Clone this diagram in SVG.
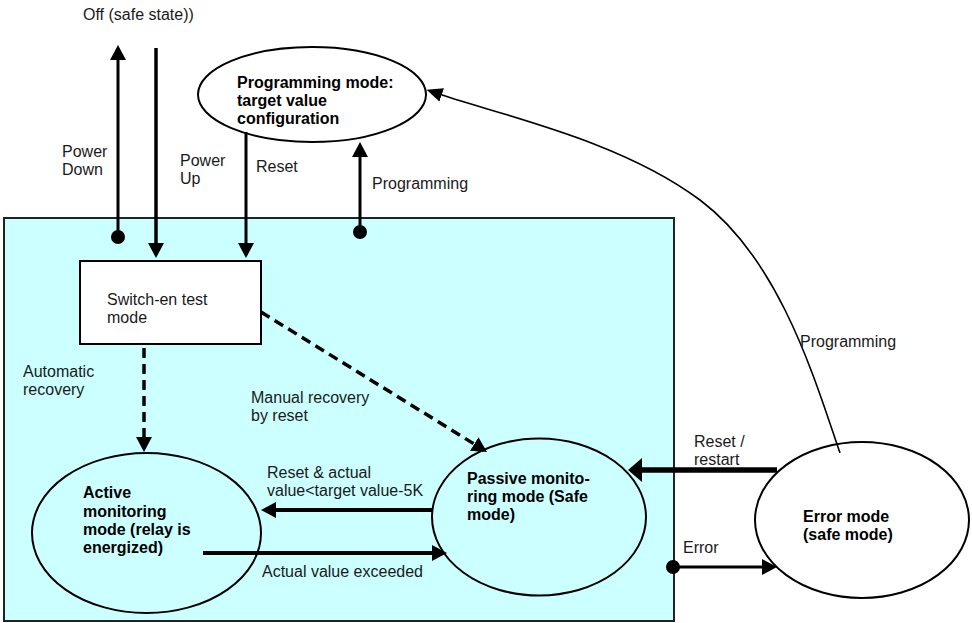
<svg xmlns="http://www.w3.org/2000/svg" width="972" height="623" viewBox="0 0 972 623">
<style>
text{font-family:"Liberation Sans",Arial,sans-serif;font-size:16px;fill:#1a1a1a}
.b{font-weight:bold;fill:#000}
.node{fill:#fff;stroke:#000;stroke-width:2}
.blue{fill:#ccffff}
.ln{fill:none;stroke:#000}
.dash{stroke-dasharray:10,6}
</style>
<defs>
<marker id="ah" markerUnits="userSpaceOnUse" markerWidth="16" markerHeight="16" refX="5" refY="8" orient="auto"><path d="M0,0 L15,8 L0,16 z" fill="#000"/></marker>
<marker id="ahb" markerUnits="userSpaceOnUse" markerWidth="16" markerHeight="24" refX="4" refY="12" orient="auto"><path d="M0,0 L14,12 L0,24 z" fill="#000"/></marker>
<marker id="ahs" markerUnits="userSpaceOnUse" markerWidth="16" markerHeight="14" refX="6" refY="7" orient="auto"><path d="M0,0 L16,7 L0,14 z" fill="#000"/></marker>
</defs>
<rect id="system" x="4" y="218" width="670" height="403" fill="#ccffff" stroke="#222" stroke-width="2"/>
<g id="off"><text x="83" y="20">Off (safe state))</text></g>
<g id="programming-mode">
<ellipse class="node" cx="312" cy="94.5" rx="114" ry="47.5"/>
<text class="b" x="237" y="88">Programming mode:</text>
<text class="b" x="237" y="106">target value</text>
<text class="b" x="237" y="124">configuration</text>
</g>
<g id="switch-on">
<rect class="node" x="80" y="261" width="181" height="83"/>
<text x="107" y="305">Switch-en test</text>
<text x="107" y="323">mode</text>
</g>
<g id="active">
<ellipse class="node blue" cx="146.5" cy="533" rx="114.5" ry="80"/>
<text class="b" x="83" y="498">Active</text>
<text class="b" x="83" y="516.5">monitoring</text>
<text class="b" x="83" y="535">mode (relay is</text>
<text class="b" x="83" y="553">energized)</text>
</g>
<g id="passive">
<ellipse class="node blue" cx="539" cy="517" rx="107" ry="78.5"/>
<text class="b" x="467" y="484">Passive monito-</text>
<text class="b" x="467" y="502">ring mode (Safe</text>
<text class="b" x="467" y="520">mode)</text>
</g>
<g id="error">
<ellipse class="node" cx="862" cy="520" rx="107" ry="78"/>
<text class="b" x="803" y="522">Error mode</text>
<text class="b" x="803" y="540">(safe mode)</text>
</g>
<g id="connectors">
<line class="ln" x1="118" y1="237" x2="118" y2="55" stroke-width="3" marker-end="url(#ah)"/>
<circle cx="118" cy="237" r="7"/>
<line class="ln" x1="156" y1="48" x2="156" y2="248" stroke-width="3.5" marker-end="url(#ah)"/>
<line class="ln" x1="246" y1="132" x2="246" y2="248" stroke-width="3" marker-end="url(#ah)"/>
<line class="ln" x1="360" y1="232" x2="360" y2="152" stroke-width="3" marker-end="url(#ah)"/>
<circle cx="360" cy="232" r="7"/>
<line class="ln dash" x1="144" y1="348" x2="144" y2="442" stroke-width="3.5" marker-end="url(#ah)"/>
<line class="ln dash" x1="261" y1="312" x2="478.5" y2="446.7" stroke-width="3.5" marker-end="url(#ah)"/>
<line class="ln" x1="433" y1="510" x2="271" y2="510" stroke-width="4" marker-end="url(#ah)"/>
<line class="ln" x1="203" y1="553" x2="437" y2="553" stroke-width="4" marker-end="url(#ah)"/>
<line class="ln" x1="777" y1="470" x2="638" y2="470" stroke-width="5.5" marker-end="url(#ahb)"/>
<line class="ln" x1="673" y1="567" x2="767" y2="567" stroke-width="3" marker-end="url(#ah)"/>
<circle cx="673" cy="567" r="7"/>
<path class="ln" d="M840,453 C815,380 780,260 700,200 S500,115 436,93" stroke-width="1.6" marker-end="url(#ahs)"/>
</g>
<g id="labels">
<text x="62" y="157">Power</text>
<text x="62" y="175">Down</text>
<text x="180" y="166">Power</text>
<text x="180" y="184">Up</text>
<text x="256" y="172">Reset</text>
<text x="372" y="189">Programming</text>
<text x="23" y="377">Automatic</text>
<text x="23" y="395">recovery</text>
<text x="251" y="403">Manual recovery</text>
<text x="251" y="421">by reset</text>
<text x="267" y="478">Reset &amp; actual</text>
<text x="267" y="496">value&lt;target value-5K</text>
<text x="262" y="577">Actual value exceeded</text>
<text x="694" y="447">Reset /</text>
<text x="694" y="465">restart</text>
<text x="683" y="553">Error</text>
<text x="800" y="347">Programming</text>
</g>
</svg>
